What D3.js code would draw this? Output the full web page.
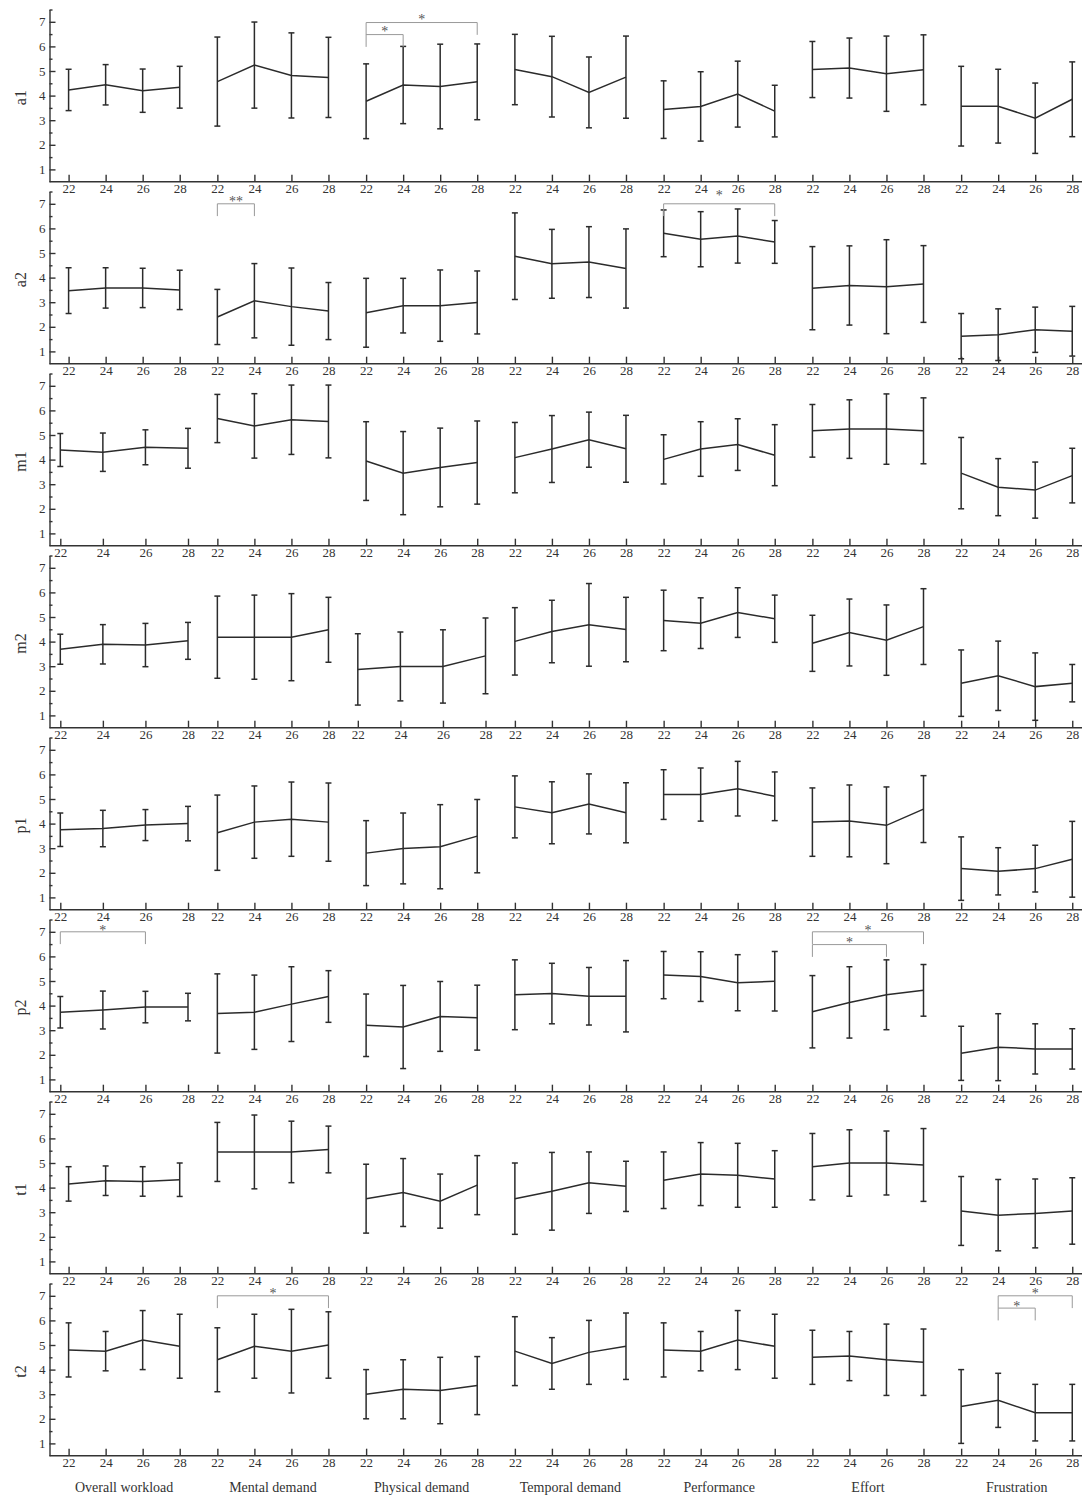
<!DOCTYPE html>
<meta charset="utf-8">
<style>
body { margin: 0; background: #fff; }
svg text { font-family: "Liberation Serif", "Times New Roman", serif; fill: #333; }
.axis path, .axis line { stroke: #333; stroke-width: 1.4px; }
.bar { stroke: #2b2b2b; stroke-width: 1.5px; fill: none; }
.meanline { stroke: #2b2b2b; stroke-width: 1.5px; fill: none; }
.bracket { stroke: #999; stroke-width: 1px; fill: none; }
.star { fill: #555; }
</style>
<body>
<script src="https://cdn.jsdelivr.net/npm/d3@7"></script>
<script>

// categories, x ticks and panels
var categories = ["Overall workload", "Mental demand", "Physical demand", "Temporal demand",
                  "Performance", "Effort", "Frustration"];
var ages = [22, 24, 26, 28];
var panels = ["a1", "a2", "m1", "m2", "p1", "p2", "t1", "t2"];
var yTicks = [1, 2, 3, 4, 5, 6, 7];

// means and standard deviations, one row per category, one value per age
var means_a1 = [[4.23,4.44,4.20,4.34],[4.57,5.24,4.82,4.74],[3.77,4.43,4.37,4.56],[5.06,4.77,4.13,4.75],
                [3.43,3.56,4.06,3.37],[5.06,5.12,4.89,5.05],[3.57,3.57,3.08,3.85]];
var sd_a1    = [[0.84,0.82,0.88,0.85],[1.81,1.75,1.73,1.63],[1.52,1.57,1.72,1.54],[1.43,1.64,1.44,1.67],
                [1.17,1.41,1.34,1.05],[1.14,1.22,1.53,1.42],[1.62,1.50,1.43,1.52]];
var means_a2 = [[3.47,3.58,3.58,3.50],[2.40,3.06,2.82,2.64],[2.57,2.86,2.86,2.99],[4.87,4.56,4.63,4.37],
                [5.80,5.56,5.69,5.45],[3.57,3.68,3.63,3.74],[1.62,1.68,1.88,1.82]];
var sd_a2    = [[0.93,0.82,0.80,0.80],[1.12,1.51,1.57,1.16],[1.40,1.11,1.45,1.28],[1.76,1.40,1.44,1.61],
                [0.95,1.12,1.10,0.87],[1.69,1.61,1.91,1.56],[0.92,1.05,0.92,1.01]];
var means_m1 = [[4.39,4.30,4.50,4.46],[5.67,5.37,5.62,5.55],[3.94,3.45,3.68,3.88],[4.08,4.43,4.81,4.44],
                [4.01,4.43,4.61,4.18],[5.17,5.24,5.24,5.17],[3.45,2.88,2.76,3.35]];
var sd_m1    = [[0.67,0.78,0.71,0.81],[0.98,1.31,1.41,1.48],[1.60,1.69,1.60,1.69],[1.43,1.36,1.12,1.36],
                [1.00,1.11,1.05,1.24],[1.07,1.19,1.43,1.34],[1.45,1.16,1.14,1.11]];
var means_m2 = [[3.69,3.89,3.86,4.03],[4.18,4.18,4.18,4.48],[2.87,2.99,2.99,3.42],[4.01,4.41,4.68,4.49],
                [4.86,4.75,5.18,4.93],[3.93,4.37,4.06,4.61],[2.31,2.61,2.17,2.31]];
var sd_m2    = [[0.61,0.80,0.88,0.75],[1.67,1.71,1.77,1.32],[1.45,1.40,1.49,1.54],[1.37,1.27,1.68,1.31],
                [1.23,1.03,1.01,0.96],[1.14,1.36,1.43,1.54],[1.35,1.41,1.37,0.76]];
var means_p1 = [[3.75,3.80,3.94,4.00],[3.63,4.06,4.18,4.06],[2.80,2.99,3.06,3.49],[4.68,4.44,4.80,4.44],
                [5.18,5.18,5.42,5.11],[4.06,4.11,3.93,4.59],[2.17,2.06,2.17,2.55]];
var sd_p1    = [[0.68,0.74,0.63,0.70],[1.53,1.47,1.51,1.59],[1.32,1.44,1.71,1.49],[1.26,1.26,1.22,1.22],
                [1.01,1.08,1.11,0.99],[1.39,1.46,1.56,1.36],[1.29,0.96,0.95,1.54]];
var means_p2 = [[3.73,3.82,3.94,3.94],[3.68,3.73,4.06,4.37],[3.20,3.13,3.56,3.51],[4.44,4.49,4.38,4.38],
                [5.24,5.18,4.93,4.99],[3.75,4.13,4.44,4.62],[2.06,2.31,2.24,2.24]];
var sd_p2    = [[0.64,0.77,0.64,0.56],[1.61,1.51,1.52,1.05],[1.27,1.69,1.42,1.32],[1.42,1.23,1.17,1.45],
                [0.96,1.01,1.14,1.21],[1.47,1.45,1.42,1.05],[1.10,1.36,1.02,0.82]];
var means_t1 = [[4.15,4.28,4.25,4.32],[5.45,5.45,5.45,5.55],[3.55,3.80,3.45,4.10],[3.55,3.85,4.20,4.05],
                [4.30,4.55,4.50,4.35],[4.85,5.00,5.00,4.92],[3.05,2.88,2.95,3.05]];
var sd_t1    = [[0.70,0.60,0.60,0.68],[1.20,1.50,1.25,0.95],[1.40,1.38,1.10,1.20],[1.45,1.58,1.25,1.02],
                [1.15,1.28,1.30,1.15],[1.35,1.35,1.30,1.48],[1.40,1.45,1.40,1.35]];
var means_t2 = [[4.80,4.75,5.20,4.95],[4.40,4.95,4.75,5.00],[3.00,3.20,3.15,3.35],[4.75,4.25,4.70,4.95],
                [4.80,4.75,5.20,4.95],[4.50,4.55,4.40,4.30],[2.50,2.75,2.25,2.25]];
var sd_t2    = [[1.10,0.80,1.20,1.30],[1.30,1.30,1.70,1.35],[1.00,1.20,1.35,1.18],[1.40,1.05,1.30,1.35],
                [1.10,0.80,1.20,1.30],[1.10,1.00,1.45,1.35],[1.50,1.10,1.15,1.15]];

var means = {a1: means_a1, a2: means_a2, m1: means_m1, m2: means_m2,
             p1: means_p1, p2: means_p2, t1: means_t1, t2: means_t2};
var sds = {a1: sd_a1, a2: sd_a2, m1: sd_m1, m2: sd_m2,
           p1: sd_p1, p2: sd_p2, t1: sd_t1, t2: sd_t2};

// significance brackets (level = height of the bar, labelAt = height of the stars)
var brackets = [
  {panel: "a1", cat: "Physical demand", from: 22, to: 24, level: 6.48, labelAt: 6.69, label: "*"},
  {panel: "a1", cat: "Physical demand", from: 22, to: 28, level: 6.97, labelAt: 7.18, label: "*"},
  {panel: "a2", cat: "Mental demand",   from: 22, to: 24, level: 7.00, labelAt: 7.20, label: "**"},
  {panel: "a2", cat: "Performance",     from: 22, to: 28, level: 7.00, labelAt: 7.42, label: "*"},
  {panel: "p2", cat: "Overall workload", from: 22, to: 26, level: 7.00, labelAt: 7.16, label: "*"},
  {panel: "p2", cat: "Effort",          from: 22, to: 26, level: 6.48, labelAt: 6.67, label: "*"},
  {panel: "p2", cat: "Effort",          from: 22, to: 28, level: 7.00, labelAt: 7.16, label: "*"},
  {panel: "t2", cat: "Mental demand",   from: 22, to: 28, level: 7.00, labelAt: 7.20, label: "*"},
  {panel: "t2", cat: "Frustration",     from: 24, to: 26, level: 6.50, labelAt: 6.68, label: "*"},
  {panel: "t2", cat: "Frustration",     from: 24, to: 28, level: 7.00, labelAt: 7.20, label: "*"}
];

// layout
var W = 1086, H = 1497;
var axisLeftX = 49.5, axisRightX = 1082;
var rowTop0 = 9.5, rowPitch = 182, rowHeight = 172.2;
var halfNormal = 55.55, halfWide = 63.85;
var wideGroups = {m1: [0], m2: [0, 2], p1: [0], p2: [0]};
var capHalf = 3;

var svg = d3.select("body").append("svg")
    .attr("width", W)
    .attr("height", H);

var centers = d3.scalePoint().domain(categories).range([124.15, 1016.7]);

function groupScale(panel, gi) {
  var wide = (wideGroups[panel] || []).indexOf(gi) >= 0;
  var half = wide ? halfWide : halfNormal;
  var c = centers(categories[gi]);
  return d3.scaleLinear().domain([22, 28]).range([c - half, c + half]);
}

panels.forEach(function(panel, r) {
  var top = rowTop0 + r * rowPitch;
  var y = d3.scaleLinear().domain([0.5, 7.5]).range([top + rowHeight, top]);
  var g = svg.append("g");

  // y axis, major ticks inward
  g.append("g")
      .attr("class", "axis")
      .attr("transform", "translate(" + axisLeftX + ",0)")
      .call(d3.axisLeft(y).tickValues(yTicks).tickFormat(d3.format("d"))
              .tickSizeInner(-6).tickSizeOuter(0).tickPadding(4))
      .call(function(s) {
        s.selectAll("text").attr("x", -4).style("font-size", "13px");
      });

  // minor y ticks
  g.append("g")
      .attr("class", "axis")
      .attr("transform", "translate(" + axisLeftX + ",0)")
      .call(d3.axisLeft(y).tickValues(d3.range(1.5, 7.6, 1)).tickSizeInner(-3).tickSizeOuter(0).tickFormat(""))
      .call(function(s) { s.select(".domain").remove(); });

  // x axis base line
  g.append("line")
      .attr("x1", axisLeftX).attr("x2", axisRightX)
      .attr("y1", y(0.5)).attr("y2", y(0.5))
      .style("stroke", "#333").style("stroke-width", "1.6px");

  // row label
  g.append("text")
      .text(panel)
      .attr("transform", "translate(26," + (y(4) + 2) + ") rotate(-90)")
      .attr("text-anchor", "middle")
      .style("font-size", "16px");

  categories.forEach(function(cat, gi) {
    var x = groupScale(panel, gi);

    g.append("g")
        .attr("class", "axis")
        .attr("transform", "translate(0," + y(0.5) + ")")
        .call(d3.axisBottom(x).tickValues(ages).tickFormat(d3.format("d"))
                .tickSizeInner(-7).tickSizeOuter(0).tickPadding(2))
        .call(function(s) {
          s.select(".domain").remove();
          s.selectAll("text").style("font-size", "13px");
        });

    var pts = ages.map(function(a, i) {
      return {age: a, m: means[panel][gi][i], sd: sds[panel][gi][i]};
    });

    // error bars
    var bars = g.append("g").selectAll("g").data(pts).enter().append("g");
    bars.append("line").attr("class", "bar")
        .attr("x1", function(d) { return x(d.age); })
        .attr("x2", function(d) { return x(d.age); })
        .attr("y1", function(d) { return y(d.m + d.sd); })
        .attr("y2", function(d) { return y(d.m - d.sd); });
    bars.append("line").attr("class", "bar")
        .attr("x1", function(d) { return x(d.age) - capHalf; })
        .attr("x2", function(d) { return x(d.age) + capHalf; })
        .attr("y1", function(d) { return y(d.m + d.sd); })
        .attr("y2", function(d) { return y(d.m + d.sd); });
    bars.append("line").attr("class", "bar")
        .attr("x1", function(d) { return x(d.age) - capHalf; })
        .attr("x2", function(d) { return x(d.age) + capHalf; })
        .attr("y1", function(d) { return y(d.m - d.sd); })
        .attr("y2", function(d) { return y(d.m - d.sd); });

    // mean line
    var line = d3.line()
        .x(function(d) { return x(d.age); })
        .y(function(d) { return y(d.m); });
    g.append("path")
        .datum(pts)
        .attr("class", "meanline")
        .attr("d", line);
  });

  // significance brackets
  brackets.filter(function(b) { return b.panel === panel; }).forEach(function(b) {
    var x = groupScale(panel, categories.indexOf(b.cat));
    var drop = 0.5;
    g.append("path")
        .attr("class", "bracket")
        .attr("d", "M" + x(b.from) + "," + y(b.level - drop) +
                   "V" + y(b.level) + "H" + x(b.to) + "V" + y(b.level - drop));
    g.append("text")
        .attr("class", "star")
        .text(b.label)
        .attr("x", (x(b.from) + x(b.to)) / 2)
        .attr("y", y(b.labelAt) + 7)
        .attr("text-anchor", "middle")
        .style("font-size", "14px");
  });

  // category names under the last panel
  if (r === panels.length - 1) {
    g.selectAll(".cat").data(categories).enter().append("text")
        .attr("class", "cat")
        .text(function(d) { return d; })
        .attr("x", function(d) { return centers(d); })
        .attr("y", y(0.5) + 36)
        .attr("text-anchor", "middle")
        .style("font-size", "14px");
  }
});

</script>
</body>
